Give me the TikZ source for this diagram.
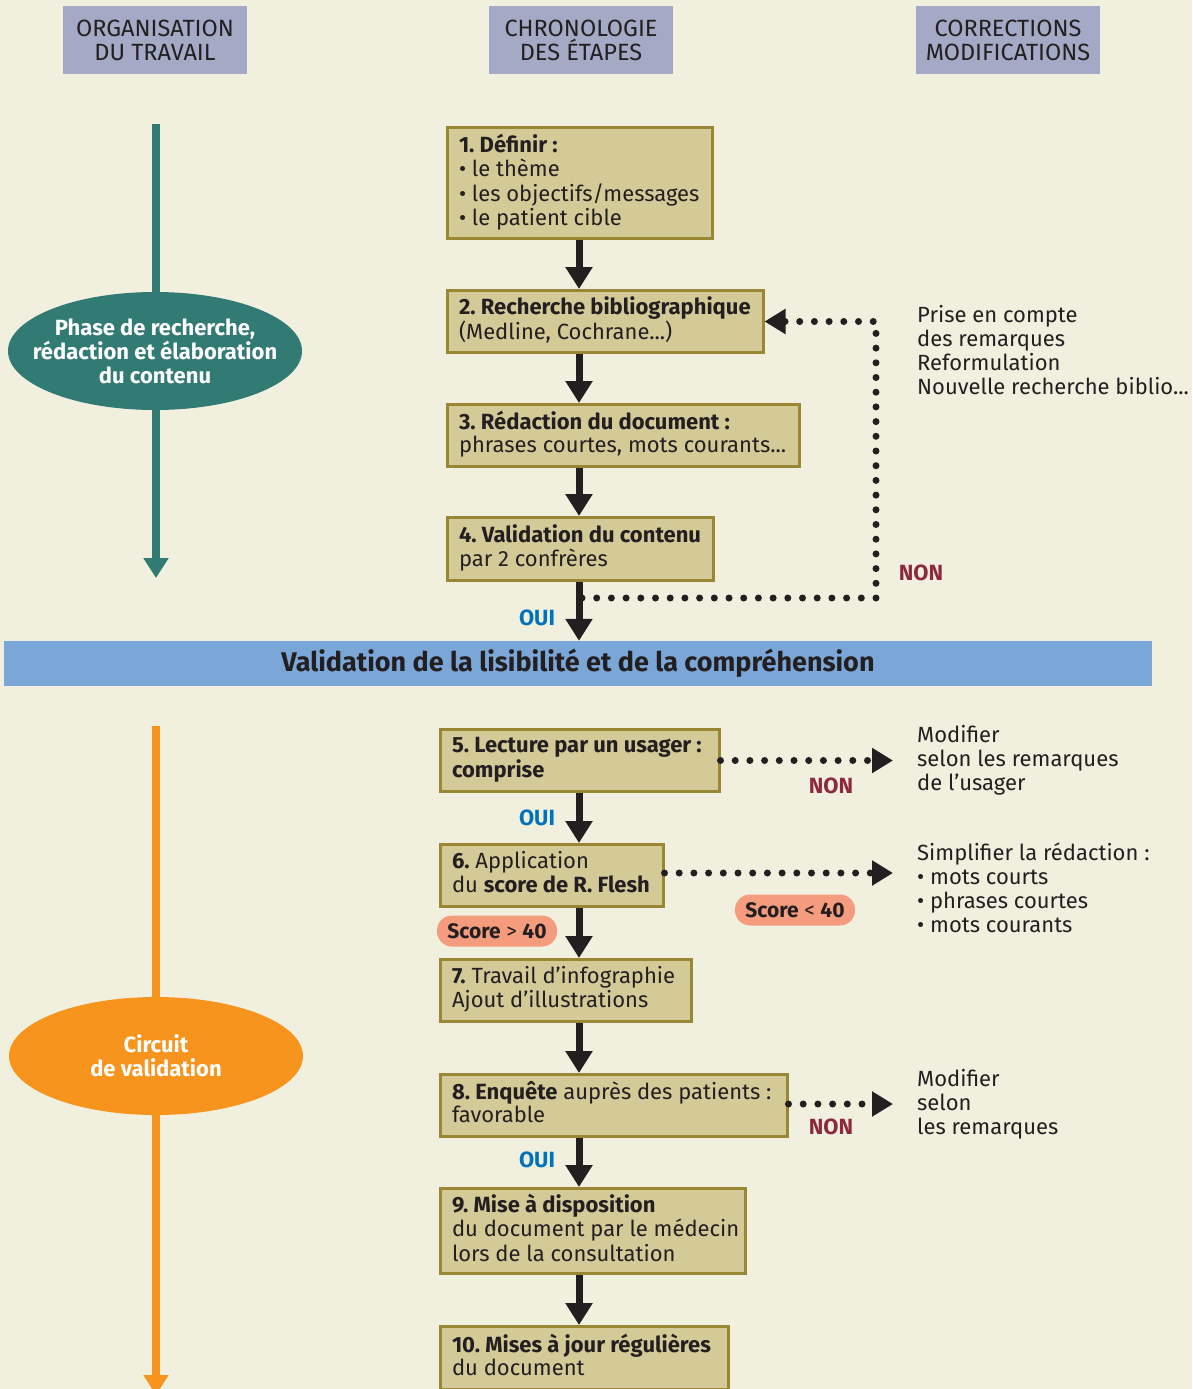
\documentclass[tikz,border=0pt]{standalone}
\usepackage{fontspec}
\setmainfont{Fira Sans}
\usetikzlibrary{arrows.meta,calc,shapes.geometric}
\definecolor{bg}{HTML}{F1F0DF}
\definecolor{hdr}{HTML}{A4AAC5}
\definecolor{tealc}{HTML}{327A74}
\definecolor{orangec}{HTML}{F7941E}
\definecolor{boxfill}{HTML}{D4CA98}
\definecolor{boxdraw}{HTML}{9A8733}
\definecolor{bandc}{HTML}{7BA6D8}
\definecolor{ouic}{HTML}{0072BC}
\definecolor{nonc}{HTML}{8C2A3C}
\definecolor{pillc}{HTML}{F59C7E}
\definecolor{ink}{HTML}{231F20}
\newcommand{\fsmain}{\fontsize{22}{24}\selectfont}
\newcommand{\boxlines}[2]{\makebox[#1][l]{\def\arraystretch{0.96}\begin{tabular}{@{}l@{}}#2\end{tabular}}}
\frenchspacing
\begin{document}
\begin{tikzpicture}[x=1pt,y=-1pt,
  every node/.style={text=ink, font=\fsmain},
  hdrbox/.style={fill=hdr, minimum width=184pt, minimum height=68pt, align=center, inner sep=0pt, font=\fontsize{23.5}{24}\selectfont},
  stepbox/.style={draw=boxdraw, line width=3pt, fill=boxfill, anchor=west, inner xsep=12pt, inner ysep=0pt, minimum height=62pt},
  phase/.style={ellipse, minimum width=294pt, minimum height=118pt, inner sep=0pt},
  phasetext/.style={align=center, text=white, font=\fontsize{22}{24}\selectfont\bfseries, inner sep=0pt},
  arr/.style={draw=ink, line width=7pt, -{Triangle[width=26pt,length=22pt]}},
  dotline/.style={draw=ink, line width=7pt, line cap=round, dash pattern=on 0pt off 14.7pt},
  dotarr/.style={dotline, -{Triangle[width=24pt,length=21pt]}},
  oui/.style={text=ouic, font=\fsmain\bfseries},
  non/.style={text=nonc, font=\fsmain\bfseries},
  pill/.style={fill=pillc, rounded corners=15pt, minimum width=120pt, minimum height=31pt, inner sep=0pt, font=\fontsize{21}{24}\selectfont},
  sidetext/.style={anchor=west, align=left, inner sep=0pt}
]
\fill[bg] (0,0) rectangle (1192,1389);
\useasboundingbox (0,0) rectangle (1192,1389);

% headers
\node[hdrbox] (h1) at (155,40) {ORGANISATION\\DU TRAVAIL};
\node[hdrbox] (h2) at (581,40) {CHRONOLOGIE\\DES ÉTAPES};
\node[hdrbox] (h3) at (1008,40) {CORRECTIONS\\MODIFICATIONS};

% left phase lines
\coordinate (ts) at (156,124);
\coordinate (te) at (156,578);
\draw[tealc, line width=8pt, -{Triangle[width=24pt,length=20pt]}] (ts) -- (te);
\node[phase, fill=tealc] (ph1) at (155,351) {};
\node[phasetext] (ph1t) at (ph1.center) {Phase de recherche,\\rédaction et élaboration\\du contenu};
\coordinate (os) at (156,726);
\coordinate (oe) at (156,1395);
\draw[orangec, line width=8pt, -{Triangle[width=24pt,length=20pt]}] (os) -- (oe);
\node[phase, fill=orangec] (ph2) at (156,1056) {};
\node[phasetext] (ph2t) at (ph2.center) {Circuit\\de validation};

% column
\coordinate (col) at (579,0);

% boxes
\node[stepbox, minimum height=111pt] (b1) at (445.5,183) {\boxlines{241pt}{\textbf{1. Définir :}\\• le thème\\• les objectifs/messages\\• le patient cible}};
\node[stepbox] (b2) at (445.5,321.5) {\boxlines{292pt}{\textbf{2. Recherche bibliographique}\\(Medline, Cochrane...)}};
\node[stepbox] (b3) at (445.5,435.5) {\boxlines{328pt}{\textbf{3. Rédaction du document :}\\phrases courtes, mots courants...}};
\node[stepbox, minimum height=63pt] (b4) at (445.5,549) {\boxlines{242pt}{\textbf{4. Validation du contenu}\\par 2 confrères}};

\node[fill=bandc, minimum width=1148pt, minimum height=45pt, inner sep=0pt, font=\fontsize{27}{28}\selectfont\bfseries] (band) at (578,663.5) {Validation de la lisibilité et de la compréhension};

\node[stepbox] (b5) at (438.5,760.5) {\boxlines{255pt}{\textbf{5. Lecture par un usager :}\\\textbf{comprise}}};
\node[stepbox] (b6) at (438.5,875.5) {\boxlines{199pt}{\textbf{6.} Application\\du \textbf{score de R. Flesh}}};
\node[stepbox] (b7) at (438.5,990.5) {\boxlines{227pt}{\textbf{7.} Travail d’infographie\\Ajout d’illustrations}};
\node[stepbox] (b8) at (438.5,1105.5) {\boxlines{323pt}{\textbf{8. Enquête} auprès des patients :\\favorable}};
\node[stepbox, minimum height=85pt] (b9) at (438.5,1231) {\boxlines{281pt}{\textbf{9. Mise à disposition}\\du document par le médecin\\lors de la consultation}};
\node[stepbox, minimum height=63pt] (b10) at (438.5,1358) {\boxlines{264pt}{\textbf{10. Mises à jour régulières}\\du document}};

% main arrows
\draw[arr] (b1.south -| col) -- (b2.north -| col);
\draw[arr] (b2.south -| col) -- (b3.north -| col);
\draw[arr] (b3.south -| col) -- (b4.north -| col);
\draw[arr] (b4.south -| col) -- (band.north -| col);
\draw[arr] (b5.south -| col) -- (b6.north -| col);
\draw[arr] (b6.south -| col) -- (b7.north -| col);
\draw[arr] (b7.south -| col) -- (b8.north -| col);
\draw[arr] (b8.south -| col) -- (b9.north -| col);
\draw[arr] (b9.south -| col) -- (b10.north -| col);

% loop back
\coordinate (j4) at (582,598);
\coordinate (lc) at (876,0);
\draw[dotarr] (j4) -- (j4 -| lc) -- (b2.east -| lc) -- (b2.east);

% right dotted arrows
\coordinate (ex) at (893,0);
\draw[dotarr] (b5.east) -- (b5.east -| ex);
\draw[dotarr] ($(b6.east)+(0,-2.5)$) -- ($(b6.east -| ex)+(0,-2.5)$);
\draw[dotarr] ($(b8.east)+(0,-1.5)$) -- ($(b8.east -| ex)+(0,-1.5)$);

% labels
\node[oui] (o1) at (537,618) {OUI};
\node[oui] (o2) at (537,818) {OUI};
\node[oui] (o3) at (537,1160) {OUI};
\node[non] (n1) at (921,573) {NON};
\node[non] (n2) at (831,786) {NON};
\node[non] (n3) at (831,1127) {NON};
\node[pill] (p1) at (795,910) {\textbf{Score} < \textbf{40}};
\node[pill] (p2) at (497,931) {\textbf{Score} > \textbf{40}};

% side texts
\node[sidetext] (s1) at (917,350) {Prise en compte\\des remarques\\Reformulation\\Nouvelle recherche biblio...};
\node[sidetext] (s2) at (917,760) {Modifier\\selon les remarques\\de l’usager};
\node[sidetext] (s3) at (917,888) {Simplifier la rédaction :\\• mots courts\\• phrases courtes\\• mots courants};
\node[sidetext] (s4) at (917,1104) {Modifier\\selon\\les remarques};
\end{tikzpicture}
\end{document}
